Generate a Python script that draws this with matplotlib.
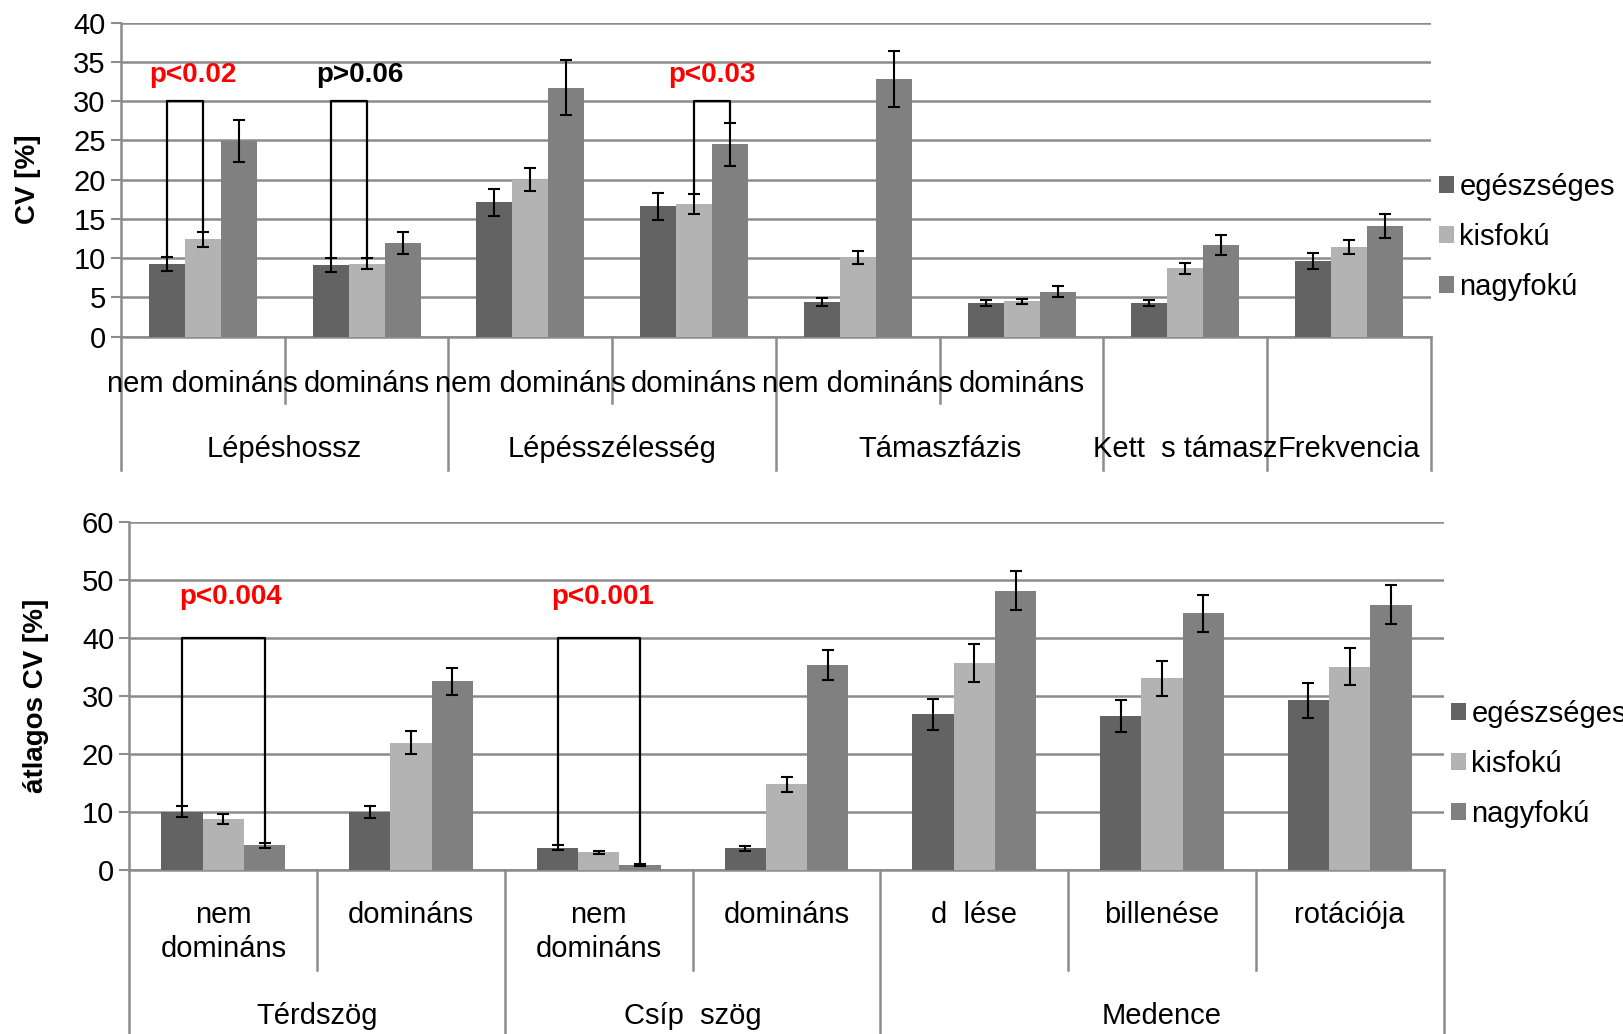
import numpy as np
import matplotlib
matplotlib.use("Agg")
import matplotlib.pyplot as plt
from matplotlib import transforms

plt.rcParams['font.family'] = ['Liberation Sans', 'DejaVu Sans']

series_names = ["egészséges", "kisfokú", "nagyfokú"]
series_colors = ["#636363", "#b3b3b3", "#808080"]

# upper panel: CV [%]
top_subcats = ["nem domináns", "domináns", "nem domináns", "domináns",
               "nem domináns", "domináns", "", ""]
top_groups = ["Lépéshossz", "Lépésszélesség", "Támaszfázis", "Kett  s támasz", "Frekvencia"]
top_group_sizes = [2, 2, 2, 1, 1]
top_healthy = [9.3, 9.1, 17.1, 16.6, 4.4, 4.3, 4.3, 9.6]
top_healthy_err = [0.9, 0.9, 1.7, 1.7, 0.5, 0.4, 0.4, 1.0]
top_mild = [12.4, 9.3, 20.0, 16.9, 10.1, 4.5, 8.7, 11.4]
top_mild_err = [1.0, 0.7, 1.5, 1.3, 0.8, 0.3, 0.7, 0.9]
top_severe = [24.9, 11.9, 31.7, 24.5, 32.8, 5.7, 11.7, 14.1]
top_severe_err = [2.7, 1.4, 3.5, 2.7, 3.6, 0.7, 1.3, 1.5]
# (slot, from series, to series, label, colour)
top_brackets = [(0, 0, 1, "p<0.02", "red"), (1, 0, 1, "p>0.06", "black"),
                (3, 1, 2, "p<0.03", "red")]
top_bracket_level = 30
top_pvalue_x = [-0.06, 0.96, 3.11]
top_pvalue_y = 33.3

# lower panel: átlagos CV [%]
bot_subcats = ["nem\ndomináns", "domináns", "nem\ndomináns", "domináns",
               "d  lése", "billenése", "rotációja"]
bot_groups = ["Térdszög", "Csíp  szög", "Medence"]
bot_group_sizes = [2, 2, 3]
bot_healthy = [10.0, 9.9, 3.8, 3.7, 26.8, 26.5, 29.2]
bot_healthy_err = [1.0, 1.0, 0.4, 0.45, 2.7, 2.7, 3.0]
bot_mild = [8.8, 21.9, 3.0, 14.7, 35.6, 33.0, 35.0]
bot_mild_err = [0.85, 2.0, 0.3, 1.35, 3.3, 3.0, 3.15]
bot_severe = [4.2, 32.5, 0.8, 35.3, 48.1, 44.2, 45.7]
bot_severe_err = [0.4, 2.35, 0.1, 2.55, 3.35, 3.15, 3.3]
bot_brackets = [(0, 0, 2, "p<0.004", "red"), (2, 0, 2, "p<0.001", "red")]
bot_bracket_level = 40
bot_pvalue_x = [0.04, 2.02]
bot_pvalue_y = 47.1

GRID = "#8c8c8c"
FS = 21
BAR_W = 0.22


def draw_panel(fig, ax, subcats, groups, group_sizes, values, errors, ymax, ystep,
               brackets, bracket_level, pval_x, pval_y, ylabel, ylabel_pos,
               sub_y, sub_va, sub_line_y, group_y, group_line_y, legend_pos):
    n = len(subcats)
    x = np.arange(n)
    handles = []
    for k in range(3):
        xs = x + (k - 1) * BAR_W
        h = ax.bar(xs, values[k], BAR_W, color=series_colors[k], label=series_names[k],
                   zorder=3, linewidth=0)
        ax.errorbar(xs, values[k], yerr=errors[k], fmt="none", ecolor="black",
                    elinewidth=1.5, capsize=4.5, capthick=1.5, zorder=4)
        handles.append(h)

    ax.set_xlim(-0.5, n - 0.5)
    ax.set_ylim(0, ymax)
    ax.set_yticks(np.arange(0, ymax + 1, ystep))
    ax.tick_params(axis="y", labelsize=FS, length=7, width=1.5, color=GRID, direction="out", pad=4)
    ax.set_xticks([])
    ax.yaxis.grid(True, color=GRID, linewidth=1.8, zorder=0)
    ax.set_axisbelow(True)
    for s in ["top", "right"]:
        ax.spines[s].set_visible(False)
    for s in ["left", "bottom"]:
        ax.spines[s].set_color(GRID)
        ax.spines[s].set_linewidth(1.8)

    # category axis below the plot
    tr = transforms.blended_transform_factory(ax.transData, fig.transFigure)
    y_axis = ax.get_position().y0
    bounds = np.cumsum([0] + group_sizes) - 0.5
    for b in np.arange(n + 1) - 0.5:
        bottom = group_line_y if np.any(np.isclose(bounds, b)) else sub_line_y
        ax.plot([b, b], [y_axis, bottom], transform=tr, color=GRID, lw=1.8, clip_on=False)
    for i, lab in enumerate(subcats):
        ax.text(i, sub_y, lab, transform=tr, ha="center", va=sub_va, fontsize=FS,
                linespacing=1.25)
    for g, lab in enumerate(groups):
        ax.text((bounds[g] + bounds[g + 1]) / 2, group_y, lab, transform=tr,
                ha="center", va="center", fontsize=FS)

    # significance brackets
    for (slot, a, b, lab, col), tx in zip(brackets, pval_x):
        xa = slot + (a - 1) * BAR_W
        xb = slot + (b - 1) * BAR_W
        ya = values[a][slot] + errors[a][slot]
        yb = values[b][slot] + errors[b][slot]
        ax.plot([xa, xa, xb, xb], [ya, bracket_level, bracket_level, yb],
                color="black", lw=1.6, zorder=5)
        ax.text(tx, pval_y, lab, color=col, fontsize=20, fontweight="bold",
                ha="center", va="center", zorder=6)

    fig.text(ylabel_pos[0], ylabel_pos[1], ylabel, rotation=90, ha="center", va="center",
             fontsize=20, fontweight="bold")

    ax.legend(handles=handles, loc="center left", bbox_to_anchor=legend_pos,
              bbox_transform=fig.transFigure, frameon=False, fontsize=FS,
              handlelength=0.5, handleheight=0.5, handletextpad=0.2,
              labelspacing=0.76, borderpad=0, borderaxespad=0)


fig = plt.figure(figsize=(16.23, 10.34), dpi=100)
ax1 = fig.add_axes([0.07455, 0.67437, 0.80715, 0.30368])
ax2 = fig.add_axes([0.07979, 0.15890, 0.80967, 0.33656])

draw_panel(fig, ax1, top_subcats, top_groups, top_group_sizes,
           [top_healthy, top_mild, top_severe],
           [top_healthy_err, top_mild_err, top_severe_err],
           40, 5, top_brackets, top_bracket_level, top_pvalue_x, top_pvalue_y,
           "CV [%]", (0.0173, 0.827),
           sub_y=0.6290, sub_va="center", sub_line_y=0.6103,
           group_y=0.5655, group_line_y=0.5455, legend_pos=(0.8866, 0.7708))

draw_panel(fig, ax2, bot_subcats, bot_groups, bot_group_sizes,
           [bot_healthy, bot_mild, bot_severe],
           [bot_healthy_err, bot_mild_err, bot_severe_err],
           60, 10, bot_brackets, bot_bracket_level, bot_pvalue_x, bot_pvalue_y,
           "átlagos CV [%]", (0.0222, 0.3274),
           sub_y=0.1286, sub_va="top", sub_line_y=0.0619,
           group_y=0.0175, group_line_y=0.0, legend_pos=(0.894, 0.2614))

fig.savefig("out.png", dpi=100)
